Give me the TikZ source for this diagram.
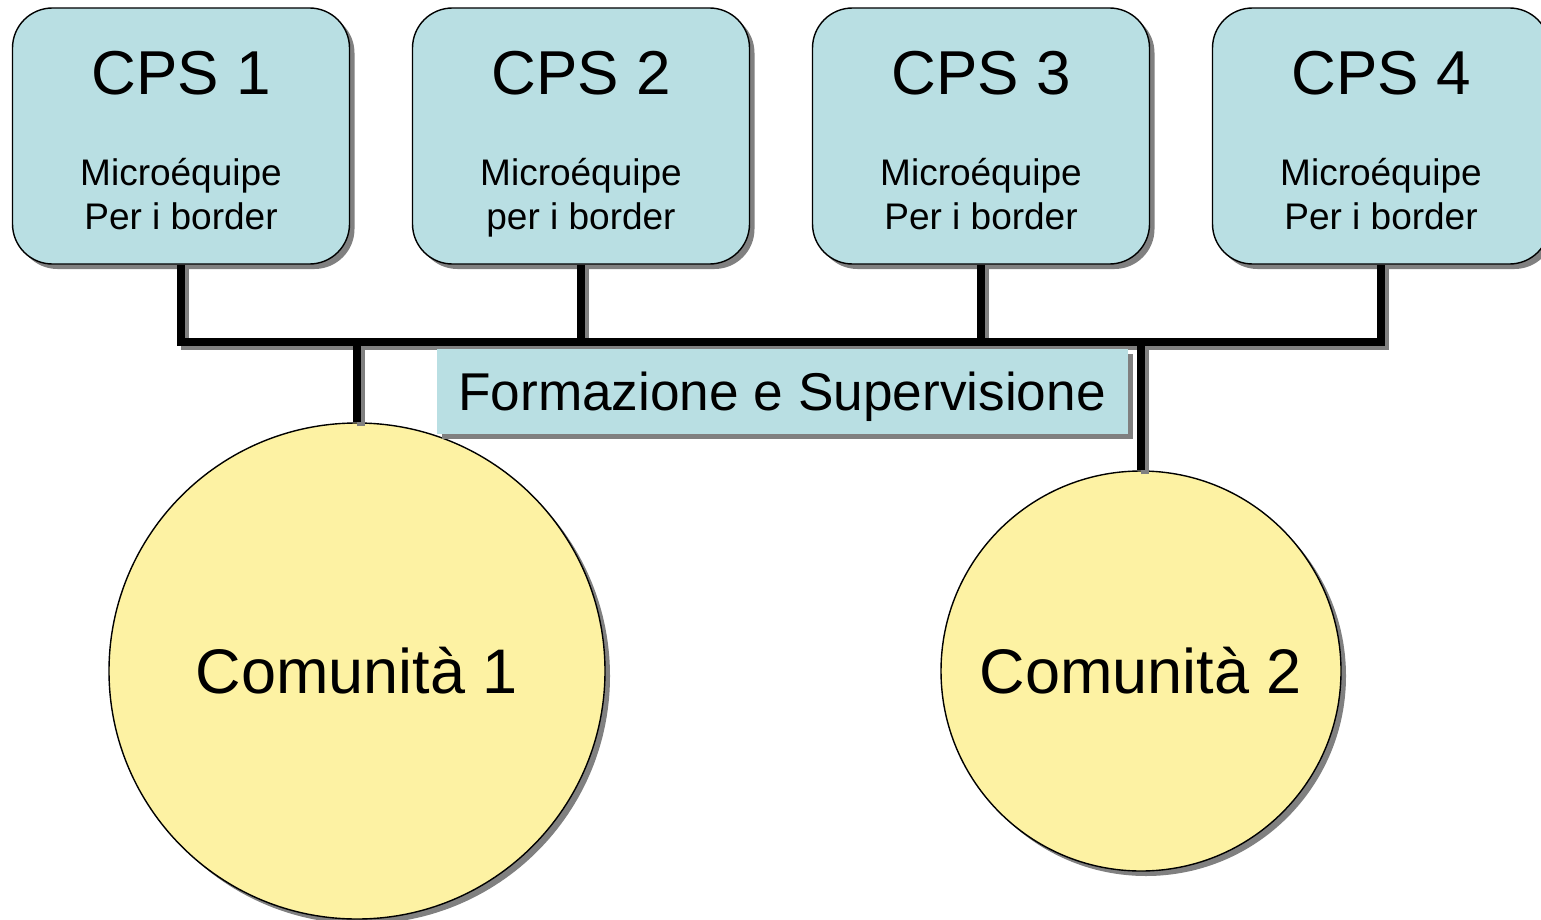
\documentclass[tikz,border=0pt]{standalone}
\usepackage{fontspec}
\setmainfont{Liberation Sans}
\usetikzlibrary{shadows}

\definecolor{cpsblue}{HTML}{B9DFE3}
\definecolor{comyellow}{HTML}{FDF2A3}
\definecolor{shadowgray}{HTML}{808080}

\tikzset{
  cpsbox/.style={draw=black, line width=0.7pt, fill=cpsblue, rounded corners=20pt,
    minimum width=168.5pt, minimum height=128pt, inner sep=0pt,
    drop shadow={shadow xshift=2.5pt, shadow yshift=-2.5pt, opacity=1, fill=shadowgray}},
  cpstitle/.style={font=\fontsize{31}{37}\selectfont, inner sep=0pt},
  cpssub/.style={font=\fontsize{18.5}{22}\selectfont, align=center, inner sep=0pt},
  combubble/.style={circle, draw=black, line width=0.7pt, fill=comyellow, inner sep=0pt,
    font=\fontsize{31.5}{37}\selectfont,
    drop shadow={shadow xshift=2.5pt, shadow yshift=-2.5pt, opacity=1, fill=shadowgray}},
  tagbox/.style={fill=cpsblue, minimum width=345.5pt, minimum height=42.5pt, inner sep=0pt,
    text depth=0pt, font=\fontsize{26.6}{32}\selectfont,
    drop shadow={shadow xshift=2.5pt, shadow yshift=-2.5pt, opacity=1, fill=shadowgray}},
  link/.style={line width=4pt}
}

\newcommand{\cpslinks}[1]{%
  \draw[link,draw=#1] (cps1.south) |- (cps4.south |- bus) -- (cps4.south);
  \draw[link,draw=#1] (cps2.south) -- (cps2.south |- bus);
  \draw[link,draw=#1] (cps3.south) -- (cps3.south |- bus);
  \draw[link,draw=#1] (com1.north) -- (com1.north |- bus);
  \draw[link,draw=#1] (com2.north) -- (com2.north |- bus);
}

\begin{document}
\begin{tikzpicture}[x=0.5pt, y=-0.5pt]

\useasboundingbox (0,0) rectangle (1541,920);

% the four CPS
\node[cpsbox] (cps1) at (181,136) {};
\node[cpsbox] (cps2) at (581,136) {};
\node[cpsbox] (cps3) at (981,136) {};
\node[cpsbox] (cps4) at (1381,136) {};

\node[cpstitle] (t1) at (181,73) {CPS 1};
\node[cpstitle] (t2) at (581,73) {CPS 2};
\node[cpstitle] (t3) at (981,73) {CPS 3};
\node[cpstitle] (t4) at (1381,73) {CPS 4};

\node[cpssub] (s1) at (181,199) {Microéquipe\strut\\Per i border\strut};
\node[cpssub] (s2) at (581,199) {Microéquipe\strut\\per i border\strut};
\node[cpssub] (s3) at (981,199) {Microéquipe\strut\\Per i border\strut};
\node[cpssub] (s4) at (1381,199) {Microéquipe\strut\\Per i border\strut};

% communities
\node[combubble, minimum size=248pt] (com1) at (357,671) {Comunità 1};
\node[combubble, minimum size=200pt] (com2) at (1141,671) {Comunità 2};

\coordinate (bus) at (0,342);

\begin{scope}[transform canvas={xshift=2pt, yshift=-2pt}]
\cpslinks{shadowgray}
\end{scope}
\cpslinks{black}

\node[tagbox] (tag) at (782,391.5) {Formazione e Supervisione};

\end{tikzpicture}
\end{document}
